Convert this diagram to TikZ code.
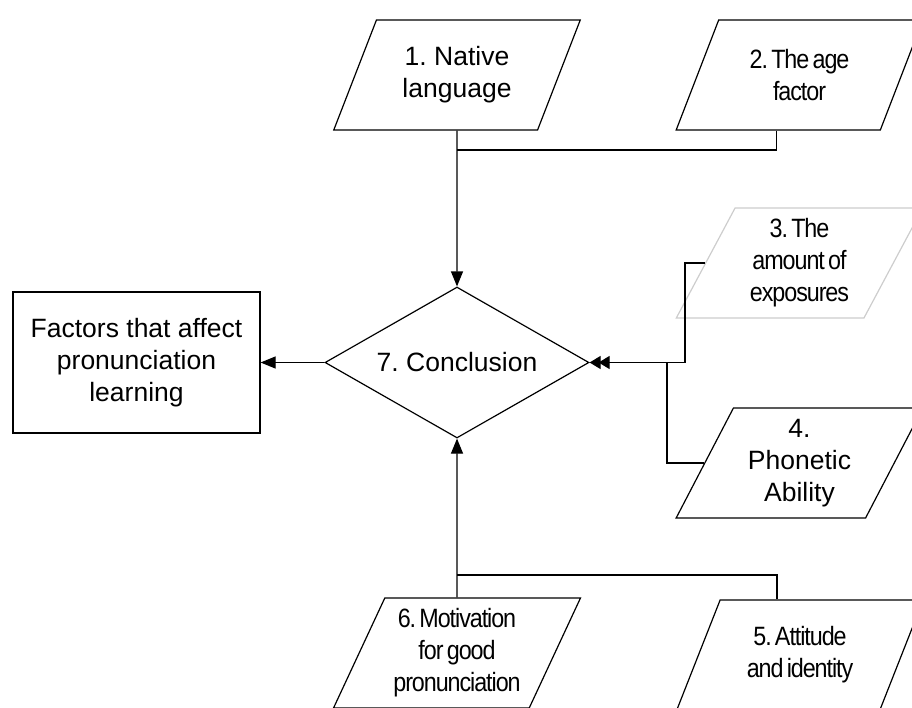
\documentclass[tikz,border=0pt]{standalone}
\usepackage{fontspec}
\setmainfont{Liberation Sans}
\newfontfamily\narrowfont[FakeStretch=0.88,LetterSpace=-4,WordSpace=0.6]{Liberation Sans}
\usetikzlibrary{arrows.meta,shapes.geometric}
\definecolor{pale}{RGB}{205,205,205}
\tikzset{flowto/.style={-{Triangle[length=15pt,width=12pt]}},
  flowin/.style={-{Triangle[length=11pt,width=13pt]}},
  factor/.style={trapezium, trapezium left angle=63, trapezium right angle=117,
    trapezium stretches=true, draw, minimum width=247, minimum height=110,
    inner sep=0pt, align=center},
  normaltext/.style={font=\fontsize{26.5}{32}\selectfont},
  narrowtext/.style={font=\fontsize{26.5}{32}\selectfont\narrowfont}}
\frenchspacing

\begin{document}
\begin{tikzpicture}[x=1pt, y=-1pt, line width=1.2pt, every node/.style={normaltext}]
  \useasboundingbox (0,0) rectangle (912,707);
  \clip (0,0) rectangle (912,707);

  \node [draw, minimum width=247, minimum height=141, inner sep=0pt, align=center] (result) at (136.5,362.5) {Factors that affect\\pronunciation\\learning};
  \node [diamond, aspect=1.75, draw, minimum width=264, minimum height=151, inner sep=0pt] (concl) at (457,362.5) {7. Conclusion};

  \node [factor] (native) at (457,75) {1. Native\\language};
  \node [factor, narrowtext] (age) at (799.5,75) {2. The age\\factor};
  \node [factor, narrowtext, draw=pale] (expo) at (799.5,263) {3. The\\amount of\\exposures};
  \node [factor] (phon) at (799.5,463) {4.\\Phonetic\\Ability};
  \node [factor, narrowtext] (attit) at (800,655) {5. Attitude\\and identity};
  \node [factor, narrowtext] (motiv) at (457,653) {6. Motivation\\for good\\pronunciation};

  % junctions of the connectors
  \coordinate (jtop) at (457,150);
  \coordinate (jbot) at (457,575);
  \coordinate (kexpo) at (685,362.5);
  \coordinate (kphon) at (667,362.5);

  \draw [flowto] (native.south) -- (concl.north);
  \draw ([xshift=-23pt]age.south) |- (jtop);
  \draw [flowto] (motiv.north) -- (concl.south);
  \draw ([xshift=-23pt]attit.north) |- (jbot);
  \draw [flowin] (phon.west) -| (kphon) -- (concl.east);
  \draw [flowin, shorten >=9pt] (expo.west) -| (kexpo) -- (concl.east);
  \draw [flowto] (concl.west) -- (result.east);
\end{tikzpicture}
\end{document}
